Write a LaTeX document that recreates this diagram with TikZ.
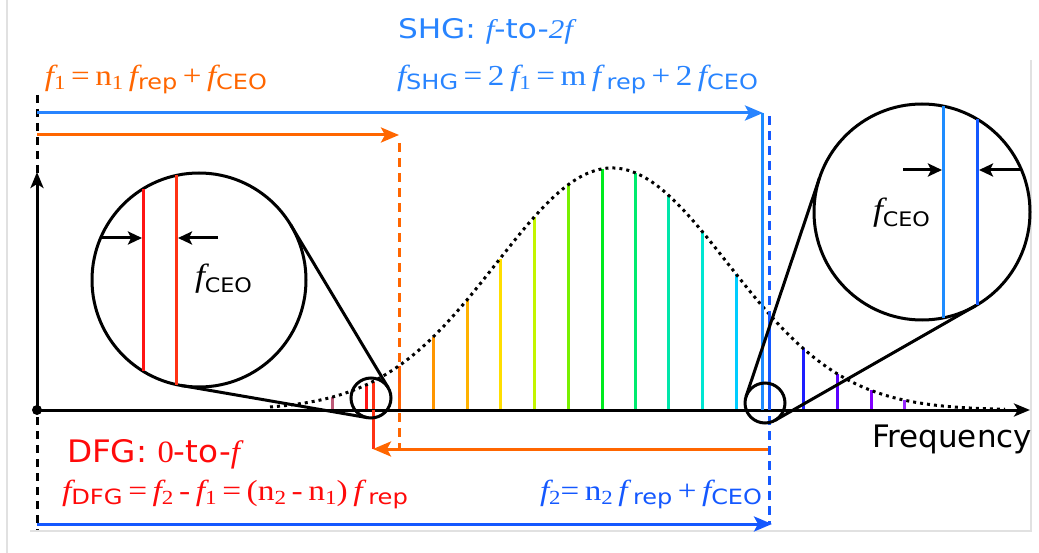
\documentclass[tikz,border=0pt]{standalone}
\usepackage{fontspec}
\setmainfont{Liberation Serif}
\setsansfont{DejaVu Sans}
\usepackage{graphicx}
\usetikzlibrary{arrows.meta}
\definecolor{shgblue}{RGB}{40,132,255}
\definecolor{ftwoblue}{RGB}{20,88,255}
\definecolor{orng}{RGB}{255,102,0}
\definecolor{dfgred}{RGB}{255,10,10}
\definecolor{cA}{RGB}{190,90,120}
\definecolor{cB}{RGB}{255,20,20}
\definecolor{cBB}{RGB}{255,50,20}
\definecolor{cC}{RGB}{255,90,20}
\definecolor{cD}{RGB}{255,150,0}
\definecolor{cE}{RGB}{255,178,0}
\definecolor{cF}{RGB}{255,222,0}
\definecolor{cG}{RGB}{195,245,0}
\definecolor{cH}{RGB}{120,240,0}
\definecolor{cI}{RGB}{0,235,30}
\definecolor{cJ}{RGB}{0,235,110}
\definecolor{cK}{RGB}{0,230,170}
\definecolor{cL}{RGB}{0,230,210}
\definecolor{cM}{RGB}{0,205,255}
\definecolor{cN}{RGB}{30,140,255}
\definecolor{cO}{RGB}{20,88,255}
\definecolor{cP}{RGB}{30,30,255}
\definecolor{cQ}{RGB}{90,0,255}
\definecolor{cR}{RGB}{130,0,255}
\definecolor{cS}{RGB}{150,40,255}
\definecolor{framegray}{RGB}{225,225,225}
\newcommand\itf{{\rmfamily\itshape f}}
\newcommand\SubS[1]{\raisebox{-4pt}{\sffamily\fontsize{21}{21}\selectfont #1}}
\newcommand\SubN[1]{\raisebox{-4pt}{\rmfamily\fontsize{20}{20}\selectfont #1}}
\newcommand\gauss[1]{410-242*exp(-(((#1-612)/100)^2/2.67))}
\begin{document}
\begin{tikzpicture}[x=1pt,y=-1pt,line width=3pt,
  lbl/.style={anchor=base west,inner sep=0pt,outer sep=0pt},
  bigtip/.style={-{Stealth[length=18pt,width=15pt,inset=4pt]}},
  smalltip/.style={-{Stealth[length=14pt,width=13pt,inset=3pt]}},
  axistip/.style={-{Stealth[length=16pt,width=13pt,inset=4pt]}},
  dashline/.style={dash pattern=on 9pt off 6pt},
  tooth/.style={line width=3pt},
  lens/.style={black,line width=3pt},
  framerule/.style={framegray,line width=1.2pt}]
\useasboundingbox (0,0) rectangle (1039,553);
% faint frame
\draw[framerule] (7,0) -- (7,553);
\draw[framerule] (30,531) -- (1031,531) -- (1031,60);
% comb teeth
\foreach \x/\c in {332/cA,366/cB,373/cBB,399/cC,433/cD,467/cE,500/cF,534/cG,568/cH,602/cI,635/cJ,668/cK,702/cL,736/cM,769/cO,803/cP,837/cQ,871/cR,904/cS}{
  \draw[tooth,\c] (\x,410) -- (\x,{\gauss{\x}});
}
% envelope
\draw[black,line width=3pt,dash pattern=on 3pt off 4pt] plot[domain=270:1005,samples=200,smooth] (\x,{\gauss{\x}});
% coordinates
\coordinate (O) at (37,410);
\coordinate (xend) at (1030,410);
\coordinate (yend) at (37,172);
\coordinate (dtop) at (37,95);
\coordinate (dbot) at (37,530);
% black dashed reference
\draw[black,dash pattern=on 8pt off 6pt] (dtop) -- (dbot);
% axes
\draw[black,axistip] (O) -- (xend);
\draw[black,axistip] (O) -- (yend);
\fill[black] (O) circle (5);
% SHG arrow (top, blue)
\coordinate (shgS) at (37,113);
\coordinate (shgE) at (763,113);
\draw[shgblue,bigtip] (shgS) -- (shgE);
\draw[cN,tooth] (762,113) -- (762,410);
% f2 dashed (blue)
\coordinate (ftT) at (769,116);
\coordinate (ftB) at (769,524);
\draw[ftwoblue,dashline] (ftT) -- (ftB);
% f1 arrow (orange)
\coordinate (foS) at (37,135);
\coordinate (foE) at (399,135);
\draw[orng,bigtip] (foS) -- (foE);
\coordinate (foT) at (399,143);
\coordinate (foB) at (399,449);
\draw[orng,dashline] (foT) -- (foB);
% DFG return arrow
\coordinate (dfS) at (768,449);
\coordinate (dfE) at (373,449);
\draw[cBB,tooth] (373,410) -- (dfE);
\draw[orng,bigtip] (dfS) -- (dfE);
% f2 arrow (bottom, blue)
\coordinate (btS) at (37,524);
\coordinate (btE) at (772,524);
\draw[ftwoblue,bigtip] (btS) -- (btE);
% left magnifier
\coordinate (L) at (199,280);
\coordinate (l) at (371,398);
\draw[lens,fill=white] (L) circle (107);
\draw[cB,tooth] (143,189) -- (143,371);
\draw[cBB,tooth] (176,175.5) -- (176,384.5);
\draw[black,smalltip] (100,238) -- (142,238);
\draw[black,smalltip] (218,238) -- (178,238);
\draw[lens] (l) circle (20);
\coordinate (Lu) at (290.8,225);
\coordinate (lu) at (388.2,387.7);
\coordinate (Ld) at (180.8,385.4);
\coordinate (ld) at (367.6,417.7);
\draw[lens] (Lu) -- (lu);
\draw[lens] (Ld) -- (ld);
% right magnifier
\coordinate (R) at (922,212);
\coordinate (r) at (765,403);
\draw[lens,fill=white] (R) circle (108);
\draw[cN,tooth] (943,106) -- (943,318);
\draw[cO,tooth] (977,119) -- (977,305);
\draw[black,smalltip] (903,170) -- (942,170);
\draw[black,smalltip] (1022,170) -- (979,170);
\draw[lens] (r) circle (20);
\coordinate (Ru) at (819.6,177.6);
\coordinate (ru) at (746,396.6);
\coordinate (Rd) at (975.6,305.7);
\coordinate (rd) at (775,420.4);
\draw[lens] (Ru) -- (ru);
\draw[lens] (Rd) -- (rd);
% labels
\node[lbl,text=shgblue] (shgtitle) at (398,39) {\resizebox{175pt}{\height}{\fontsize{27}{29}\selectfont\sffamily SHG: \itf-to-{\rmfamily\itshape 2f}}};
\node[lbl,text=orng] (fone) at (45,86) {\resizebox{222pt}{\height}{\fontsize{29}{31}\selectfont\itf\SubN{1}\,=\,n\SubN{1}\,\itf\SubS{rep}\,+\,\itf\SubS{CEO}}};
\node[lbl,text=shgblue] (fshg) at (397,86) {\resizebox{361pt}{\height}{\fontsize{29}{31}\selectfont\itf\SubS{SHG}\,=\,2\,\itf\SubN{1}\,=\,m\,\itf\,\SubS{rep}\,+\,2\,\itf\SubS{CEO}}};
\node[lbl,text=dfgred] (dfgtitle) at (67,462) {\resizebox{173pt}{\height}{\fontsize{31}{33}\selectfont\sffamily DFG: {\rmfamily 0}-to-\itf}};
\node[lbl,text=dfgred] (fdfg) at (62,500) {\resizebox{346pt}{\height}{\fontsize{29}{31}\selectfont\itf\SubS{DFG}\,=\,\itf\SubN{2}\,-\,\itf\SubN{1}\,=\,(n\SubN{2}\,-\,n\SubN{1})\,\itf\,\SubS{rep}}};
\node[lbl,text=ftwoblue] (ftwo) at (540,500) {\resizebox{222pt}{\height}{\fontsize{29}{31}\selectfont\itf\SubN{2}=\,n\SubN{2}\,\itf\,\SubS{rep}\,+\,\itf\SubS{CEO}}};
\node[lbl,text=black] (freq) at (872,447) {\resizebox{160pt}{\height}{\fontsize{31}{33}\selectfont\sffamily Frequency}};
\node[lbl,text=black] (ceoL) at (195,287) {\resizebox{57pt}{\height}{\fontsize{32}{34}\selectfont\itf\raisebox{-6pt}{\sffamily\fontsize{20}{20}\selectfont CEO}}};
\node[lbl,text=black] (ceoR) at (873,221) {\resizebox{57pt}{\height}{\fontsize{32}{34}\selectfont\itf\raisebox{-6pt}{\sffamily\fontsize{20}{20}\selectfont CEO}}};
\end{tikzpicture}
\end{document}
